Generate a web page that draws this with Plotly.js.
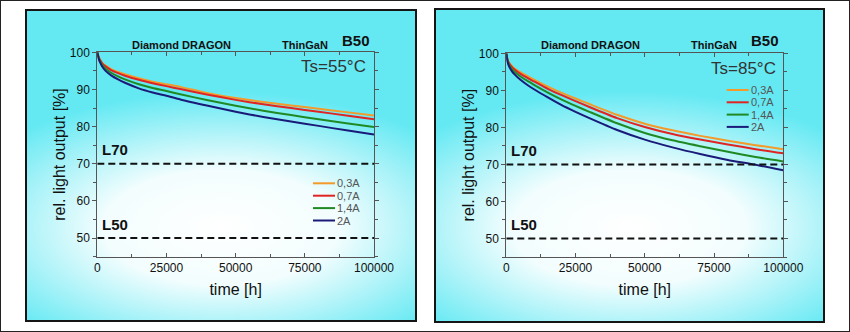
<!DOCTYPE html>
<html>
<head>
<meta charset="utf-8">
<script src="https://cdn.plot.ly/plotly-3.0.1.min.js"></script>
<style>
  html, body { margin:0; padding:0; background:#fff; }
  #wrap { position:relative; width:850px; height:332px; overflow:hidden; background:#fff; }
  #frame { position:absolute; left:0; top:0; width:850px; height:332px; box-sizing:border-box; border:1px solid #222; }
  .panel { position:absolute; box-sizing:border-box; border:2px solid #151515;
    background:
      radial-gradient(ellipse 72% 44% at 50% 70%, rgba(255,255,255,1) 0%, rgba(255,255,255,0.92) 42%, rgba(255,255,255,0) 100%),
      #64e9f3; }
  #p1 { left:25px; top:9px; width:392px; height:313px; }
  #p2 { left:434px; top:8px; width:391px; height:315px; }
  #chart { position:absolute; left:0; top:0; width:850px; height:332px; }
</style>
</head>
<body>
<div id="wrap">
  <div id="frame"></div>
  <div class="panel" id="p1"></div>
  <div class="panel" id="p2"></div>
  <div id="chart"></div>
</div>
<script>
// ---- data ----
const timeH = [0,500,1000,2000,3000,5000,7500,10000,15000,20000,25000,30000,40000,50000,60000,70000,80000,90000,100000];
const currents = ['0,3A','0,7A','1,4A','2A'];
const seriesColors = ['#f39a2a','#e02424','#1f8a24','#1a1a78'];

// Ts = 55°C
const ts55_03A = [100,98.8,98.0,97.0,96.4,95.5,94.7,94.1,93.0,92.1,91.4,90.7,89.0,87.7,86.6,85.7,84.8,83.9,83.0];
const ts55_07A = [100,98.7,97.9,96.8,96.2,95.2,94.4,93.7,92.6,91.7,90.9,90.1,88.6,87.2,86.0,85.0,84.0,83.0,82.0];
const ts55_14A = [100,98.5,97.6,96.4,95.6,94.5,93.5,92.7,91.4,90.4,89.6,88.7,87.1,85.6,84.3,83.1,82.0,80.9,79.9];
const ts55_2A  = [100,98.3,97.3,95.9,95.0,93.8,92.7,91.8,90.3,89.2,88.3,87.3,85.6,84.0,82.6,81.4,80.2,79.0,77.9];

// Ts = 85°C
const ts85_03A = [100,98.2,97.5,96.6,95.9,94.9,93.9,92.9,91.0,89.3,87.8,86.3,83.4,81.0,79.2,77.7,76.4,75.2,74.1];
const ts85_07A = [100,98.1,97.3,96.3,95.6,94.5,93.4,92.4,90.4,88.7,87.1,85.5,82.5,80.1,78.2,76.7,75.4,74.1,73.0];
const ts85_14A = [100,97.9,96.9,95.8,95.0,93.8,92.6,91.5,89.4,87.5,85.8,84.2,81.1,78.5,76.5,74.9,73.4,72.0,70.8];
const ts85_2A  = [100,97.6,96.5,95.2,94.3,92.9,91.5,90.3,88.1,86.0,84.2,82.5,79.3,76.7,74.6,72.8,71.2,69.9,68.4];

const limitLevels = [70, 50];
const limitLabels = ['L70', 'L50'];
const tempLabels = ['Ts=55°C', 'Ts=85°C'];
const productName = 'Diamond DRAGON';
const techName = 'ThinGaN';
const bLabel = 'B50';
const xTitle = 'time [h]';
const yTitle = 'rel. light output [%]';
const xTickVals = [0,25000,50000,75000,100000];
const yTickVals = [50,60,70,80,90,100];

// ---- build ----
const W = 850, H = 332;
const px = v => v / W;
const py = v => 1 - v / H;
const FONT = 'Arial, "Liberation Sans", sans-serif';

const panels = [
  {sfx:'', data:[ts55_03A, ts55_07A, ts55_14A, ts55_2A], x0:97.3, x1:374, y0:52.3, y1:256.7,
   legX:313, legY:183.3, legDy:12.4, tsRight:368, tsY:66},
  {sfx:'2', data:[ts85_03A, ts85_07A, ts85_14A, ts85_2A], x0:506.3, x1:783.3, y0:53.3, y1:257,
   legX:726.7, legY:90, legDy:12.3, tsRight:778, tsY:68}
];

const traces = [];
const shapes = [];
const annotations = [];
const layout = {
  width: W, height: H,
  margin: {l:0, r:0, t:0, b:0},
  paper_bgcolor: 'rgba(0,0,0,0)',
  plot_bgcolor: 'rgba(0,0,0,0)',
  showlegend: false,
  font: {family: FONT, color: '#111'},
  shapes: shapes, annotations: annotations
};

panels.forEach((p, pi) => {
  const xa = 'x' + p.sfx, ya = 'y' + p.sfx;
  currents.forEach((c, i) => {
    traces.push({
      x: timeH, y: p.data[i], type: 'scatter', mode: 'lines', name: c,
      xaxis: xa, yaxis: ya,
      line: {color: seriesColors[i], width: 2, shape: 'spline', smoothing: 0.6}
    });
  });
  limitLevels.forEach((lv, k) => {
    traces.push({
      x: [timeH[0], timeH[timeH.length-1]], y: [lv, lv], type: 'scatter', mode: 'lines',
      xaxis: xa, yaxis: ya, line: {color: '#111', width: 2, dash: '7px,4px'}, hoverinfo: 'skip'
    });
    annotations.push({xref: xa, yref: ya, x: 900, y: lv + 0.9, xanchor: 'left', yanchor: 'bottom',
      text: '<b>' + limitLabels[k] + '</b>', showarrow: false, font: {size: 15, color: '#111', family: FONT}});
  });
  const xax = {
    domain: [px(p.x0), px(p.x1)], range: [0, 100000], anchor: ya,
    tickvals: xTickVals, ticktext: xTickVals.map(String),
    ticks: 'inside', ticklen: 4, tickwidth: 1, tickcolor: '#555',
    minor: {ticks: 'inside', ticklen: 3, dtick: 12500, tickcolor: '#555', showgrid: false},
    showline: true, linecolor: '#555', linewidth: 1, mirror: 'ticks',
    showgrid: false, zeroline: false,
    tickfont: {size: 12, color: '#111', family: FONT},
    title: {text: xTitle, font: {size: 16, color: '#111', family: FONT}, standoff: 9}
  };
  const yax = {
    domain: [py(p.y1), py(p.y0)], range: [45, 100], anchor: xa,
    tickvals: yTickVals, ticks: 'outside', ticklen: 4, tickwidth: 1, tickcolor: '#555',
    minor: {ticks: 'outside', ticklen: 3, dtick: 5, tickcolor: '#555', showgrid: false},
    showline: true, linecolor: '#555', linewidth: 1, mirror: 'ticks',
    showgrid: false, zeroline: false,
    tickfont: {size: 12, color: '#111', family: FONT},
    title: {text: yTitle, font: {size: 16, color: '#111', family: FONT}, standoff: 0}
  };
  layout['xaxis' + p.sfx] = xax;
  layout['yaxis' + p.sfx] = yax;

  annotations.push({xref:'paper', yref:'paper', x: px(p.x0 + 84), y: py(45), xanchor:'center', yanchor:'middle',
    text: '<b>' + productName + '</b>', showarrow:false, font:{size:11, color:'#111', family:FONT}});
  annotations.push({xref:'paper', yref:'paper', x: px(p.x0 + 208), y: py(45), xanchor:'center', yanchor:'middle',
    text: '<b>' + techName + '</b>', showarrow:false, font:{size:11, color:'#111', family:FONT}});
  annotations.push({xref:'paper', yref:'paper', x: px(p.x0 + 259), y: py(41), xanchor:'center', yanchor:'middle',
    text: '<b>' + bLabel + '</b>', showarrow:false, font:{size:15, color:'#111', family:FONT}});
  annotations.push({xref:'paper', yref:'paper', x: px(p.tsRight), y: py(p.tsY), xanchor:'right', yanchor:'middle',
    text: tempLabels[pi], showarrow:false, font:{size:17, color:'#333', family:FONT}});

  currents.forEach((c, i) => {
    const yy = p.legY + i * p.legDy;
    shapes.push({type:'line', xref:'paper', yref:'paper', x0: px(p.legX), x1: px(p.legX + 22),
      y0: py(yy), y1: py(yy), line:{color: seriesColors[i], width: 2}});
    annotations.push({xref:'paper', yref:'paper', x: px(p.legX + 22), y: py(yy), xanchor:'left', yanchor:'middle',
      text: c, showarrow:false, font:{size:11, color:'#555', family:FONT}});
  });
});

Plotly.newPlot('chart', traces, layout, {staticPlot: true, displayModeBar: false});
</script>
</body>
</html>
